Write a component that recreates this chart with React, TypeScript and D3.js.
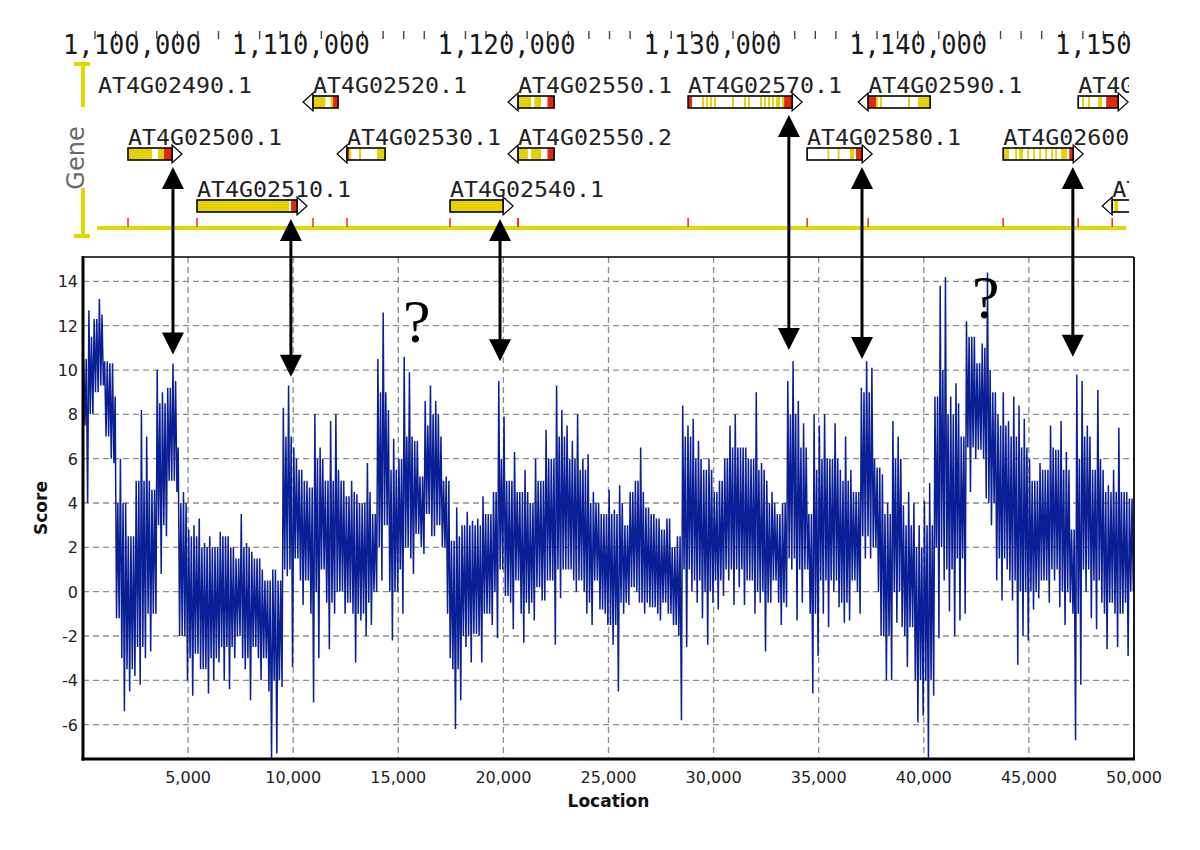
import React from 'react';
import * as d3 from 'd3';

// ---------- Score track: highest and lowest score in each 250-bp window ----------
const windowSize = 250;
const scoreHigh = [
  10.5, 12.7, 12.3, 13.2, 10.4, 10.3, 8.8, 6.0, 4.0, 2.5, 5.0, 8.2, 7.0, 4.6, 10.0, 9.0,
  9.2, 10.3, 6.5, 4.5, 2.8, 3.0, 3.3, 2.2, 2.5, 2.0, 2.7, 2.5, 2.0, 1.5, 3.5, 2.2,
  1.8, 1.5, 1.0, 0.5, 1.0, 0.5, 8.3, 9.3, 6.5, 5.5, 5.0, 4.7, 8.0, 6.5, 5.0, 7.7,
  8.0, 5.0, 4.3, 5.0, 4.4, 4.0, 5.8, 3.5, 10.5, 12.6, 8.2, 6.9, 6.0, 10.6, 9.9, 6.8,
  5.2, 8.6, 9.3, 8.6, 7.0, 5.2, 2.3, 3.8, 3.0, 3.6, 3.2, 3.3, 4.3, 3.5, 4.5, 9.5,
  7.9, 5.0, 6.3, 4.5, 5.5, 4.0, 6.0, 5.0, 7.3, 6.0, 9.3, 8.2, 7.5, 6.8, 8.0, 6.0,
  6.2, 4.5, 4.0, 3.5, 4.6, 3.7, 4.8, 3.0, 4.5, 5.0, 6.5, 3.8, 3.5, 3.3, 2.8, 3.3,
  2.0, 2.5, 8.4, 7.5, 7.8, 6.8, 5.5, 6.0, 4.5, 5.0, 6.0, 7.5, 8.0, 6.5, 6.5, 6.0,
  9.0, 5.8, 5.0, 4.5, 3.5, 4.0, 9.5, 10.4, 8.6, 7.6, 3.5, 8.0, 7.5, 8.0, 6.0, 7.6,
  5.5, 7.0, 5.5, 4.5, 9.2, 10.4, 10.1, 5.6, 5.3, 4.0, 7.7, 7.0, 3.9, 4.5, 4.0, 3.0,
  4.1, 4.9, 8.8, 13.8, 14.2, 8.8, 9.4, 7.0, 12.2, 11.5, 10.3, 11.2, 14.4, 9.0, 8.0, 9.0,
  7.7, 8.8, 8.4, 7.8, 6.0, 5.0, 5.8, 5.5, 7.5, 6.4, 7.7, 6.3, 2.8, 9.8, 9.5, 7.5,
  5.5, 9.1, 5.5, 4.8, 5.5, 7.4, 4.5, 4.2,
];
const scoreLow = [
  4.0, 8.0, 9.0, 9.3, 7.0, 5.8, -1.2, -5.4, -4.5, -3.8, -4.2, -3.0, -2.7, -1.0, 0.8, 2.5,
  5.0, 4.5, -2.0, -4.0, -4.7, -2.8, -3.5, -4.6, -4.0, -3.2, -4.0, -4.4, -3.0, -2.0, -3.5, -4.9,
  -2.5, -4.0, -3.0, -7.5, -7.3, -4.3, 0.7, -3.4, 1.5, -0.6, 0.5, -5.0, -3.0, 1.0, -2.6, -1.0,
  0.0, -1.0, -0.5, -3.2, -1.3, -2.0, -1.5, 0.0, 0.5, 3.0, -2.2, 0.0, -1.0, 2.0, 0.8, 2.6,
  1.7, 3.5, 2.5, 3.0, 2.0, -3.0, -6.2, -4.9, -2.5, -3.2, -1.9, -3.2, -1.0, -1.5, -2.1, 1.0,
  -0.2, -1.7, 0.5, -2.3, -1.0, -1.3, 0.2, -0.4, 0.5, -2.4, -0.3, 1.0, 1.0, 0.0, 0.5, -1.0,
  -1.5, 0.5, -0.8, -1.5, -2.4, -4.5, -1.0, -0.6, 0.2, -0.5, -1.0, -0.7, -0.7, -1.3, -0.5, -1.0,
  -1.5, -5.8, -2.5, 0.0, -0.5, -1.2, -2.4, -0.5, -0.8, -0.2, 0.5, -0.6, 0.2, -0.6, 0.5, -1.0,
  -0.5, -2.7, -0.5, 0.5, -1.5, -0.7, 1.0, -1.3, -0.5, 1.0, -4.6, -2.9, -1.0, -1.6, 0.0, -0.7,
  -1.4, -1.3, 0.5, -1.0, 1.5, 1.5, 2.0, -2.0, -4.0, -4.0, -1.4, -1.6, -3.4, -1.6, -5.9, -5.6,
  -7.5, -4.7, -2.1, 0.5, -0.9, -2.0, -1.3, -1.0, 4.5, 6.0, 6.4, 4.2, 3.0, 0.5, -0.4, 1.0,
  -0.4, -3.3, -2.0, -2.2, -0.8, -0.3, 0.5, -0.5, 0.5, -0.7, -1.5, -0.5, -6.7, -4.2, 0.0, -1.2,
  -1.7, -0.5, -2.6, -0.5, -2.5, -1.0, -2.9, 0.0,
];
// dense core of the trace in each 500-bp window (upper / lower edge)
const coreWindow = 500;
const coreHigh = [
  11.5, 12.5, 10.5, 4, 2.5, 5, 5, 8.5, 9.5, 4, 2.5, 2, 2, 2.5, 2, 2, 1.5, 0.5, 1, 7,
  6, 5, 6, 5, 5.5, 4.5, 4, 4.5, 9, 5.5, 7, 7, 7.5, 8, 5, 2.5, 3, 3, 3.5, 6,
  5, 4.5, 4.5, 5, 6, 7, 6, 5.5, 4, 3.5, 3.5, 4, 5, 4.5, 3.5, 3.5, 2.5, 7, 6, 5.5,
  5.5, 6.5, 6.5, 6, 5.5, 4, 4, 8, 6.5, 5.5, 6, 6, 5, 4.5, 9, 6, 3.5, 6, 3, 2,
  3, 10, 8, 8.5, 11.5, 11, 10, 7.5, 7, 6.5, 5, 5.5, 6.5, 5.5, 6, 7, 6, 4.5, 4.5, 4.5,
];
const coreLow = [
  7.5, 8.5, 6, -3, -3.5, -2.5, -1, 3, 5, -2, -3, -3.5, -3, -2.5, -2.5, -3, -3, -4.5, -4, 1,
  0.5, -1, 0, -0.5, 0, -1, -1, -0.5, 2, 0, 1, 1.5, 2, 2.5, -1, -3.5, -2, -2, -1, 0,
  -0.5, -1, -0.5, -0.5, 0.5, 1, 0.5, 0, -0.5, -1, -1.5, -0.5, 0, -0.5, -1, -1, -2, 1, 0.5, 0,
  0.5, 1, 1, 0.5, 0, -0.5, -0.5, 1.5, 1, -1, 0.5, 0.5, -0.5, 0, 2.5, 0, -2, 0, -2, -4,
  -4, 2, 1, 1.5, 6.5, 6, 4, 1.5, 0.5, 0, 0, 0.5, 1, 0, -1, 1, 0.5, -1, -1, -0.5,
];

const xTicks = [5000, 10000, 15000, 20000, 25000, 30000, 35000, 40000, 45000, 50000];
const yTicks = [-6, -4, -2, 0, 2, 4, 6, 8, 10, 12, 14];

// ---------- Gene track ----------
const rulerLabels = [1100000, 1110000, 1120000, 1130000, 1140000, 1150000];
const geneNames = [
  'AT4G02490.1', 'AT4G02520.1', 'AT4G02550.1', 'AT4G02570.1', 'AT4G02590.1', 'AT4G02610.1',
  'AT4G02500.1', 'AT4G02530.1', 'AT4G02550.2', 'AT4G02580.1', 'AT4G02600.1',
  'AT4G02510.1', 'AT4G02540.1', 'AT4G02620.1',
];
const geneRows = [0, 0, 0, 0, 0, 0, 1, 1, 1, 1, 1, 2, 2, 2];
const geneStarts = [
  1096000, 1110595, 1120558, 1128820, 1137568, 1147774,
  1101604, 1112247, 1120558, 1134603, 1144129,
  1104957, 1117253, 1149426,
];
const geneEnds = [
  1099000, 1111810, 1122307, 1133874, 1140581, 1149718,
  1103742, 1114094, 1122307, 1137276, 1147531,
  1109817, 1119829, 1151030,
];
const geneStrands = ['+', '-', '-', '+', '-', '+', '+', '-', '-', '+', '+', '+', '+', '-'];
// exon/UTR colouring along each gene, left to right (Y yellow, W white, R red)
const geneBands = [
  'Y',
  'YYYYYWWYRR',
  'YYYYWYYWWRR',
  'RRWWWWWYWYWYWYWWWWWWWWYWWWWWYWYWWWWWYWYWYWYWYYWYRRRR',
  'RRRRYWYWWWWWWWWWWWWWYWWWWYYYYYY',
  'WWYWWYWWWWYYWWRRRRRR',
  'YYYYYYYYYYYYWWWYYYRRRR',
  'RYWWWWYWWWWWWWWYYYY',
  'YYYWYYYWWRR',
  'WWWWWWWWWWYWWWWYWWWWWYYWRRR',
  'YYYWWWYWYYWWYWWYWWYWWYWWYWYWWYYYWRR',
  'YYYYYYYYYYYYYYYYYYYYYYYYYYYYYYYYYYYYYYYYYYYYYYWRRR',
  'Y',
  'WYYWWWWWWWWWWWWW',
];

// ---------- Annotations ----------
const linkGenes = ['AT4G02500.1', 'AT4G02510.1', 'AT4G02540.1', 'AT4G02570.1', 'AT4G02580.1', 'AT4G02600.1'];
const linkLocations = [4280, 9890, 19840, 33580, 37060, 47090];
const linkPeakScores = [10.7, 9.7, 10.4, 10.9, 10.5, 10.6];
const queryLocations = [15220, 42290];
const queryScores = [11.26, 12.34];

const BAND_COLORS: Record<string, string> = { Y: '#e6d200', W: '#ffffff', R: '#e4280c' };
const TRACK_YELLOW = '#e6d600';

export default function App() {
  const left = 83, right = 1134, top = 257, bottom = 759;
  const x = d3.scaleLinear().domain([0, 50000]).range([left, right]);
  const y = d3.scaleLinear().domain([-7.55, 15.1]).range([bottom, top]);
  const gx = d3.scaleLinear().domain([1100000, 1150000]).range([95, 1124]);
  const rowTops = [96, 148, 200];
  const boxH = 12;
  const fmt = d3.format(',');

  const pts: [number, number][] = [];
  scoreHigh.forEach((h, i) => {
    const lo = scoreLow[i];
    const k = Math.floor((i * windowSize) / coreWindow);
    const cHi = Math.min(h, Math.max(lo, coreHigh[k]));
    const cLo = Math.max(lo, Math.min(h, coreLow[k]));
    const b = i * windowSize;
    pts.push([b + 30, h]);
    pts.push([b + 95, cLo]);
    pts.push([b + 155, cHi]);
    pts.push([b + 220, lo]);
  });
  const line = d3.line<[number, number]>().x(d => x(d[0])).y(d => y(d[1]));

  const minorTicks = d3.range(1100000, 1150001, 1000);

  const genes = geneNames.map((name, i) => {
    const x0 = gx(geneStarts[i]);
    const x1 = gx(geneEnds[i]);
    const t = rowTops[geneRows[i]];
    const pat = geneBands[i];
    const w = (x1 - x0) / pat.length;
    const segs: { a: number; b: number; c: string }[] = [];
    for (let k = 0; k < pat.length; k++) {
      const c = pat[k];
      const last = segs[segs.length - 1];
      if (last && last.c === c) last.b = k + 1;
      else segs.push({ a: k, b: k + 1, c });
    }
    const arrow = geneStrands[i] === '+'
      ? `${x1},${t - 3} ${x1 + 10},${t + boxH / 2} ${x1},${t + boxH + 3}`
      : `${x0},${t - 3} ${x0 - 10},${t + boxH / 2} ${x0},${t + boxH + 3}`;
    return (
      <g key={name}>
        <text x={Math.max(x0, 98)} y={t - 3} fontFamily="DejaVu Sans Mono" fontSize={21}
          textLength={name.length * 14} lengthAdjust="spacingAndGlyphs" fill="#222">{name}</text>
        <polygon points={arrow} fill="#fff" stroke="#000" strokeWidth={1.2} />
        {segs.map((s, k) => (
          <rect key={k} x={x0 + s.a * w} y={t} width={(s.b - s.a) * w} height={boxH} fill={BAND_COLORS[s.c]} />
        ))}
        <rect x={x0} y={t} width={x1 - x0} height={boxH} fill="none" stroke="#000" strokeWidth={1.6} />
      </g>
    );
  });

  const head = (cx: number, tip: number, dir: number) =>
    `${cx},${tip} ${cx - 11},${tip + dir * 22} ${cx + 11},${tip + dir * 22}`;

  return (
    <svg width={1200} height={850} style={{ position: 'absolute', left: 0, top: 0, background: '#fff' }}
      xmlns="http://www.w3.org/2000/svg">
      <defs>
        <clipPath id="plotClip"><rect x={left} y={top} width={right - left} height={bottom - top} /></clipPath>
        <clipPath id="trackClip"><rect x={90} y={60} width={1039} height={185} /></clipPath>
        <clipPath id="rulerClip"><rect x={55} y={20} width={1076} height={42} /></clipPath>
      </defs>
      <rect x={0} y={0} width={1200} height={850} fill="#fff" />

      {/* ---------- ruler ---------- */}
      <g clipPath="url(#rulerClip)">
        {minorTicks.map(v => (
          <line key={v} x1={gx(v)} x2={gx(v)} y1={31} y2={39} stroke="#444" strokeWidth={1.4} />
        ))}
        {rulerLabels.map(v => {
          const half = 69;
          const cx = Math.max(gx(v), 63 + half);
          return (
            <text key={v} x={cx} y={54} textAnchor="middle" fontFamily="DejaVu Sans Mono" fontSize={27}
              textLength={138} lengthAdjust="spacingAndGlyphs" fill="#1a1a1a">{fmt(v)}</text>
          );
        })}
      </g>

      {/* ---------- gene track ---------- */}
      <g clipPath="url(#trackClip)">
        <line x1={gx(1100000) + 2} x2={gx(1150100)} y1={228} y2={228} stroke={TRACK_YELLOW} strokeWidth={4} />
        {geneStarts.filter(s => s >= 1100000).map((s, i) => (
          <line key={i} x1={gx(s)} x2={gx(s)} y1={218} y2={227} stroke="#e4301c" strokeWidth={1.5} />
        ))}
        {genes}
      </g>
      <g stroke={TRACK_YELLOW} strokeWidth={4}>
        <line x1={83} x2={83} y1={63} y2={107} />
        <line x1={74} x2={90} y1={64} y2={64} />
        <line x1={83} x2={83} y1={188} y2={237} />
        <line x1={74} x2={90} y1={236} y2={236} />
      </g>
      <text transform="translate(84,158) rotate(-90)" textAnchor="middle" fontFamily="DejaVu Sans"
        fontSize={24} fill="#6a6a6a">Gene</text>

      {/* ---------- score plot ---------- */}
      <g stroke="#8c8c8c" strokeWidth={1.3} strokeDasharray="6,4">
        {yTicks.map(v => <line key={v} x1={left} x2={right} y1={y(v)} y2={y(v)} />)}
        {xTicks.filter(v => v < 50000).map(v => <line key={v} x1={x(v)} x2={x(v)} y1={top} y2={bottom} />)}
      </g>
      <path d={line(pts) || ''} fill="none" stroke="#0a1f96" strokeWidth={1.5} strokeLinejoin="bevel"
        clipPath="url(#plotClip)" />
      <line x1={left} x2={right} y1={top} y2={top} stroke="#000" strokeWidth={1.6} />
      <line x1={right} x2={right} y1={top} y2={bottom} stroke="#000" strokeWidth={1.8} />
      <line x1={left} x2={left} y1={top - 1} y2={bottom + 1.5} stroke="#000" strokeWidth={3} />
      <line x1={left - 1.5} x2={right + 1} y1={bottom} y2={bottom} stroke="#000" strokeWidth={3} />

      {yTicks.map(v => (
        <text key={v} x={78} y={y(v) + 6} textAnchor="end" fontFamily="DejaVu Sans" fontSize={16} fill="#222">{v}</text>
      ))}
      {xTicks.map(v => (
        <text key={v} x={x(v)} y={783} textAnchor="middle" fontFamily="DejaVu Sans" fontSize={16} fill="#222">{fmt(v)}</text>
      ))}
      <text x={(left + right) / 2} y={807} textAnchor="middle" fontFamily="DejaVu Sans" fontWeight="bold"
        fontSize={17} fill="#111">Location</text>
      <text transform={`translate(47,${(top + bottom) / 2}) rotate(-90)`} textAnchor="middle" fontFamily="DejaVu Sans"
        fontWeight="bold" fontSize={17} fill="#111">Score</text>

      {/* ---------- annotations ---------- */}
      {queryLocations.map((loc, i) => (
        <text key={i} x={x(loc)} y={y(queryScores[i])} fontFamily="Liberation Serif" fontSize={62} fill="#000">?</text>
      ))}
      {linkGenes.map((name, i) => {
        const gi = geneNames.indexOf(name);
        const cx = x(linkLocations[i]);
        const tipTop = rowTops[geneRows[gi]] + boxH + 7;
        const tipBottom = y(linkPeakScores[i]);
        return (
          <g key={name}>
            <line x1={cx} x2={cx} y1={tipTop + 20} y2={tipBottom - 20} stroke="#000" strokeWidth={3} />
            <polygon points={head(cx, tipTop, 1)} fill="#000" />
            <polygon points={head(cx, tipBottom, -1)} fill="#000" />
          </g>
        );
      })}
    </svg>
  );
}
